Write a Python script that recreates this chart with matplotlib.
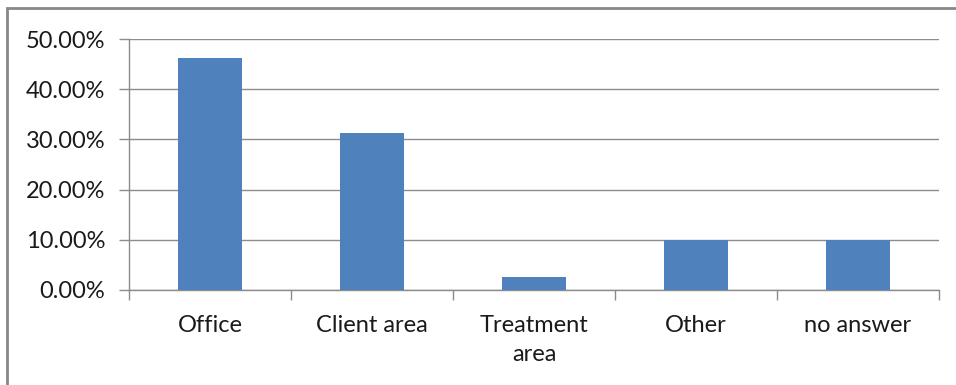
import numpy as np
import matplotlib.pyplot as plt
from matplotlib.patches import Rectangle
from matplotlib.ticker import FuncFormatter, FixedLocator

categories = ['Office', 'Client area', 'Treatment\narea', 'Other', 'no answer']
shares = [46.2, 31.3, 2.6, 10.0, 10.0]
y_ticks = [0, 10, 20, 30, 40, 50]

plt.rcParams['font.family'] = ['Lato', 'DejaVu Sans']

fig = plt.figure(figsize=(9.56, 3.85), dpi=100)
ax = fig.add_axes([129 / 956, 1 - 290 / 385, 810 / 956, 251 / 385])

grey = '#8c8c8c'
x = np.arange(len(categories))
ax.bar(x, shares, width=0.4, color='#4f81bd', zorder=3)

ax.set_xlim(-0.5, len(categories) - 0.5)
ax.set_ylim(0, 50)
ax.set_yticks(y_ticks)
ax.yaxis.set_major_formatter(FuncFormatter(lambda v, p: f'{v:.2f}%'))
ax.grid(axis='y', color=grey, linewidth=1, zorder=0)

ax.set_xticks(x)
ax.set_xticklabels(categories, linespacing=1.45)
ax.xaxis.set_minor_locator(FixedLocator(np.arange(-0.5, len(categories), 1)))
ax.tick_params(axis='x', which='major', length=0, pad=18, labelsize=17, colors='#1a1a1a')
ax.tick_params(axis='x', which='minor', length=7, width=1, color=grey)
ax.tick_params(axis='y', length=7, width=1, color=grey, labelsize=17, labelcolor='#1a1a1a', pad=10)

for side in ['top', 'right']:
    ax.spines[side].set_visible(False)
for side in ['left', 'bottom']:
    ax.spines[side].set_color(grey)
    ax.spines[side].set_linewidth(1)

# outer chart frame, cut off at right and bottom
fig.patches.append(Rectangle((7 / 956, -0.1), 1.1, 1 - 8 / 385 + 0.1,
                             transform=fig.transFigure, fill=False,
                             edgecolor='#888888', linewidth=2))

fig.savefig('out.png', dpi=100)
